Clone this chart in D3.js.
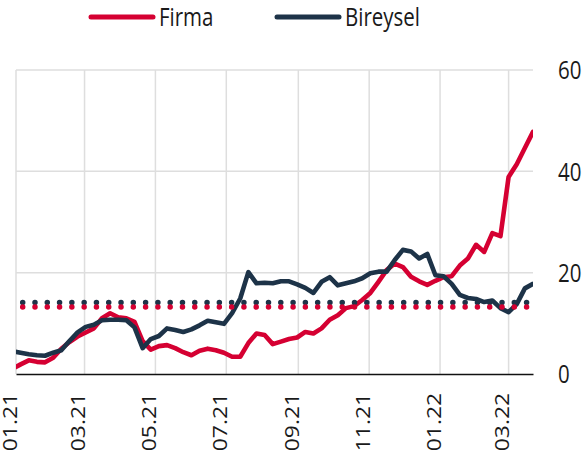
<!DOCTYPE html>
<meta charset="utf-8">
<html>
<head>
	<script src="https://cdn.jsdelivr.net/npm/d3@7"></script>
	<style>
		body { margin: 0; background: #fff; }
		text { font-family: "Open Sans", sans-serif; fill: #1a1a1a; }
	</style>
</head>
<body>
	<svg id="chart" width="587" height="462"></svg>
	<script>
	// weekly observations, first one on 29.12.2020
	var startDate = "2020-12-29";
	var firmaValues = [1.0,1.9,2.7,2.4,2.3,3.2,5.0,6.3,7.4,8.2,
		9.0,11.0,12.0,11.2,11.0,10.3,6.5,4.8,5.5,5.7,
		5.1,4.3,3.7,4.6,5.0,4.7,4.2,3.4,3.4,6.1,
		8.0,7.7,5.9,6.4,6.9,7.2,8.3,8.0,9.0,10.7,
		11.6,13.0,13.4,14.6,16.0,18.2,20.5,21.8,21.1,19.2,
		18.3,17.6,18.4,19.1,19.3,21.4,22.8,25.5,24.1,27.8,
		27.2,38.9,41.4,44.6,47.8];
	var bireyselValues = [4.5,4.2,3.9,3.7,3.6,4.2,4.7,6.5,8.2,9.3,
		9.7,10.6,10.7,10.7,10.6,9.2,5.1,6.9,7.5,9.0,
		8.7,8.3,8.8,9.6,10.5,10.2,9.9,12.0,14.9,20.1,
		17.9,18.0,17.9,18.3,18.3,17.7,17.0,16.0,18.2,19.1,
		17.5,17.9,18.3,18.9,19.9,20.2,20.2,22.5,24.5,24.2,
		22.8,23.7,19.5,19.3,17.8,15.6,15.0,14.8,14.2,14.5,
		13.0,12.2,13.8,16.9,17.8];
	var firmaAvg = 13.2;
	var bireyselAvg = 14.1;
	var tickDates = ["2021-01-01","2021-03-01","2021-05-01","2021-07-01","2021-09-01","2021-11-01","2022-01-01","2022-03-01"];
	var yTicks = [0, 20, 40, 60];
	var series = [
		{name: "Firma", values: firmaValues, avg: firmaAvg, color: "#d50032"},
		{name: "Bireysel", values: bireyselValues, avg: bireyselAvg, color: "#1d3348"}
	];

	var parse = d3.timeParse("%Y-%m-%d");
	var fmt = d3.timeFormat("%m.%y");
	var start = parse(startDate);
	var dates = firmaValues.map(function(d, i) { return d3.timeDay.offset(start, 7 * i); });

	var margin = {left: 16, right: 54, top: 70, bottom: 88};
	var svg = d3.select("#chart");
	var W = +svg.attr("width"), H = +svg.attr("height");

	var x = d3.scaleTime()
		.domain([parse("2021-01-01"), parse("2022-03-22")])
		.range([margin.left, W - margin.right]);
	var y = d3.scaleLinear()
		.domain([0, 60])
		.range([H - margin.bottom, margin.top]);

	svg.append("clipPath").attr("id", "plotClip")
		.append("rect")
			.attr("x", x.range()[0]).attr("y", 0)
			.attr("width", x.range()[1] - x.range()[0]).attr("height", H);

	// grid
	var grid = svg.append("g").attr("stroke", "#dedede").attr("stroke-width", 1.5);
	grid.selectAll(".hg").data(yTicks.slice(1)).enter().append("line")
		.attr("x1", x.range()[0]).attr("x2", x.range()[1])
		.attr("y1", function(d) { return y(d); }).attr("y2", function(d) { return y(d); });
	grid.selectAll(".vg").data(tickDates).enter().append("line")
		.attr("x1", function(d) { return x(parse(d)); }).attr("x2", function(d) { return x(parse(d)); })
		.attr("y1", y(60)).attr("y2", y(0));

	// x axis
	var xAxis = svg.append("g")
		.attr("transform", "translate(0," + y(0) + ")")
		.call(d3.axisBottom(x).tickValues(tickDates.map(parse)).tickFormat(fmt).tickSize(0).tickSizeOuter(0));
	xAxis.select(".domain").attr("stroke", "#111").attr("stroke-width", 1.5);
	xAxis.selectAll("text")
		.attr("y", null).attr("dy", 0)
		.attr("text-anchor", "end")
		.style("font-size", "19.5px")
		.attr("fill", "#1a1a1a")
		.attr("transform", "translate(0,19) rotate(-90) scale(1.17,1)");

	// y axis on the right
	var yAxis = svg.append("g")
		.attr("transform", "translate(" + x.range()[1] + ",0)")
		.call(d3.axisRight(y).tickValues(yTicks).tickSize(0));
	yAxis.select(".domain").remove();
	yAxis.selectAll("text")
		.attr("x", null).attr("dy", "0.357em")
		.attr("text-anchor", "start")
		.style("font-size", "20.5px")
		.attr("fill", "#1a1a1a")
		.attr("transform", "translate(25,0) scale(1,1.2)");

	// lines
	var line = d3.line()
		.x(function(d, i) { return x(dates[i]); })
		.y(function(d) { return y(d); });

	var plot = svg.append("g").attr("clip-path", "url(#plotClip)");
	plot.selectAll(".series").data(series).enter().append("path")
		.attr("d", function(s) { return line(s.values); })
		.attr("fill", "none")
		.attr("stroke", function(s) { return s.color; })
		.attr("stroke-width", 4.6)
		.attr("stroke-linejoin", "round")
		.attr("stroke-linecap", "round");

	// averages, dotted
	svg.selectAll(".avg").data(series.slice().reverse()).enter().append("line")
		.attr("x1", x.range()[0]).attr("x2", x.range()[1])
		.attr("y1", function(s) { return y(s.avg); }).attr("y2", function(s) { return y(s.avg); })
		.attr("stroke", function(s) { return s.color; })
		.attr("stroke-width", 5.5)
		.attr("stroke-linecap", "round")
		.attr("stroke-dasharray", "0 12.29")
		.attr("stroke-dashoffset", -6.7);

	// legend
	var legendX = [91, 277];
	var leg = svg.selectAll(".leg").data(series).enter().append("g")
		.attr("transform", function(s, i) { return "translate(" + legendX[i] + ",17)"; });
	leg.append("line")
		.attr("x1", 0).attr("x2", 62)
		.attr("stroke", function(s) { return s.color; })
		.attr("stroke-width", 5)
		.attr("stroke-linecap", "round");
	leg.append("text")
		.attr("transform", "translate(68,8.5) scale(1,1.2)")
		.style("font-size", "20.5px")
		.text(function(s) { return s.name; });
	</script>
</body>
</html>
